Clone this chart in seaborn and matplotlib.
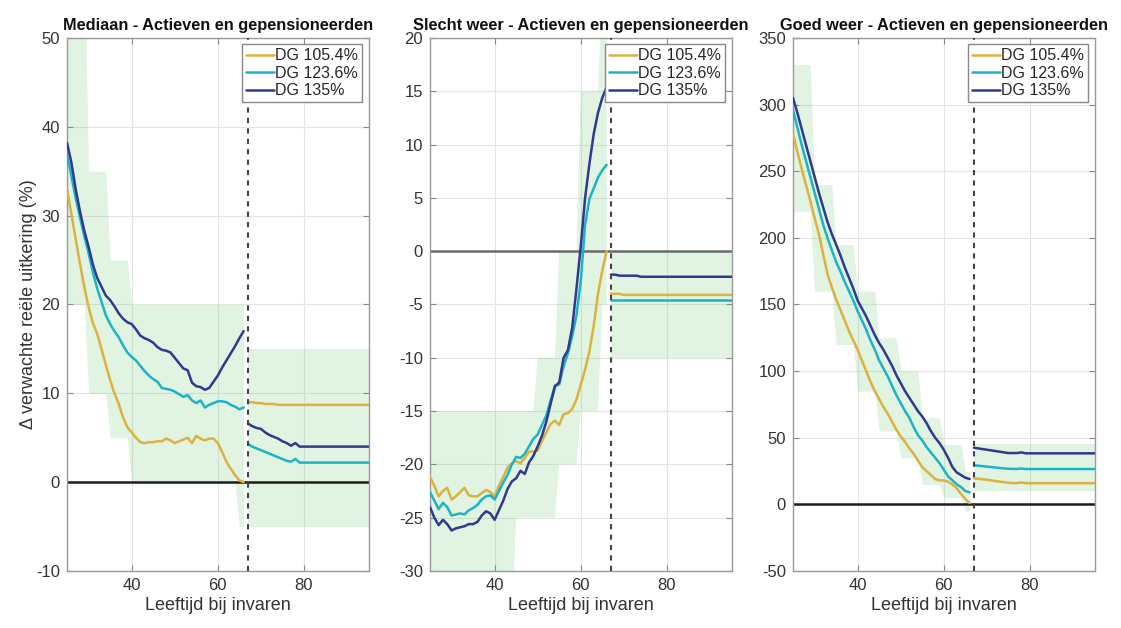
import numpy as np
import pandas as pd
import seaborn as sns
import matplotlib.pyplot as plt

# ages (pre retirement per year, post retirement at a few points)
ages_pre = list(range(25, 67))
ages_post = [67, 68, 69, 70, 71, 72, 73, 74, 75, 76, 77, 78, 79, 80, 95]
series_names = ["DG 105.4%", "DG 123.6%", "DG 135%"]

# band buckets (start age of each age group and its size)
bucket_start = [25, 30, 35, 40, 45, 50, 55, 60, 65]
bucket_size = [5, 5, 5, 5, 5, 5, 5, 5, 2]

# --- Mediaan ---
med_gold_pre = [33.0, 30.2, 27.4, 24.6, 22.0, 19.7, 17.9, 16.7, 15.0, 13.2, 11.5, 10.0, 8.8, 7.3, 6.2,
                5.6, 5.0, 4.5, 4.4, 4.5, 4.5, 4.6, 4.6, 4.9, 4.7, 4.4, 4.6, 4.8, 5.0, 4.4,
                5.2, 4.9, 4.7, 4.9, 4.9, 4.4, 3.4, 2.3, 1.5, 0.8, 0.2, 0.0]
med_cyan_pre = [36.9, 34.5, 32.0, 29.8, 27.7, 25.8, 23.6, 21.8, 20.3, 18.8, 17.8, 17.0, 16.3, 15.4, 14.6,
                14.1, 13.7, 13.1, 12.5, 12.0, 11.6, 11.3, 10.6, 10.5, 10.4, 10.2, 9.9, 9.6, 9.8, 9.2,
                8.9, 9.2, 8.4, 8.7, 8.9, 9.1, 9.1, 9.0, 8.7, 8.5, 8.2, 8.4]
med_navy_pre = [38.2, 36.0, 33.0, 30.5, 28.3, 26.5, 24.5, 23.0, 22.0, 21.0, 20.5, 19.8, 19.0, 18.4, 18.0,
                17.8, 17.2, 16.5, 16.2, 16.0, 15.7, 15.2, 14.9, 14.8, 14.6, 14.0, 13.4, 12.8, 12.6, 11.2,
                10.8, 10.7, 10.4, 10.6, 11.3, 12.0, 12.9, 13.7, 14.5, 15.3, 16.2, 17.0]
med_gold_post = [9.0, 9.0, 8.9, 8.9, 8.8, 8.8, 8.8, 8.7, 8.7, 8.7, 8.7, 8.7, 8.7, 8.7, 8.7]
med_cyan_post = [4.3, 4.0, 3.8, 3.6, 3.4, 3.2, 3.0, 2.8, 2.6, 2.4, 2.3, 2.6, 2.2, 2.2, 2.2]
med_navy_post = [6.6, 6.3, 6.1, 6.0, 5.6, 5.3, 5.1, 4.9, 4.6, 4.4, 4.1, 4.4, 4.0, 4.0, 4.0]
med_band_lo = [20, 10, 5, 0, 0, 0, 0, 0, -5]
med_band_hi = [60, 35, 25, 20, 20, 20, 20, 20, 20]
med_post_band = [-5, 15]

# --- Slecht weer ---
bad_gold_pre = [-21.2, -22.0, -23.0, -22.5, -22.2, -23.3, -23.0, -22.6, -22.2, -22.9, -23.0, -23.0, -22.7, -22.4,
                -22.6, -23.0, -22.0, -21.2, -20.3, -19.9, -19.7, -19.9, -19.4, -18.8, -18.8, -18.7, -17.8,
                -17.0, -16.2, -15.9, -16.3, -15.3, -15.2, -14.8, -13.9, -12.5, -11.1, -9.4, -7.0, -4.0, -1.8, 0.0]
bad_cyan_pre = [-22.6, -23.4, -24.2, -23.6, -24.0, -24.8, -24.7, -24.6, -24.7, -24.3, -24.1, -23.8, -23.3, -23.0,
                -22.9, -23.3, -22.5, -21.7, -21.0, -20.0, -19.3, -19.4, -19.0, -18.3, -17.6, -17.2, -16.3,
                -15.4, -14.0, -12.6, -12.5, -10.8, -9.6, -8.0, -6.0, -2.8, 2.5, 4.9, 5.9, 6.9, 7.6, 8.1]
bad_navy_pre = [-24.0, -25.0, -25.7, -25.2, -25.6, -26.2, -26.0, -25.9, -25.8, -25.6, -25.6, -25.4, -24.8, -24.4,
                -24.6, -25.2, -24.3, -23.4, -22.3, -21.6, -21.3, -20.6, -20.9, -19.8, -19.2, -18.3, -17.3,
                -16.0, -14.3, -12.7, -12.3, -10.0, -9.3, -7.2, -3.5, 0.5, 5.0, 8.2, 11.0, 13.0, 14.4, 15.4]
bad_gold_post = [-4.0, -4.0, -4.0, -4.1, -4.1, -4.1, -4.1, -4.1, -4.1, -4.1, -4.1, -4.1, -4.1, -4.1, -4.1]
bad_cyan_post = [-4.6, -4.6, -4.6, -4.6, -4.6, -4.6, -4.6, -4.6, -4.6, -4.6, -4.6, -4.6, -4.6, -4.6, -4.6]
bad_navy_post = [-2.2, -2.2, -2.3, -2.3, -2.3, -2.3, -2.3, -2.4, -2.4, -2.4, -2.4, -2.4, -2.4, -2.4, -2.4]
bad_band_lo = [-35, -35, -35, -35, -25, -25, -20, -15, -5]
bad_band_hi = [-15, -15, -15, -15, -15, -10, 0, 15, 25]
bad_post_band = [-10, 0]

# --- Goed weer ---
good_gold_pre = [278, 265, 252, 240, 228, 215, 203, 188, 173, 163, 154, 146, 138, 130, 123,
                 116, 108, 100, 92, 85, 79, 73, 68, 62, 56, 51, 47, 42, 38, 33,
                 28, 25, 22, 19, 18, 18, 17, 15, 12, 8, 4, 1]
good_cyan_pre = [296, 283, 270, 258, 246, 234, 222, 210, 200, 191, 182, 175, 167, 160, 153,
                 145, 138, 131, 123, 116, 108, 102, 96, 89, 82, 76, 70, 65, 58, 52,
                 48, 43, 39, 35, 31, 26, 21, 18, 15, 13, 10, 9]
good_navy_pre = [305, 294, 282, 270, 258, 246, 234, 223, 212, 203, 195, 187, 178, 170, 162,
                 153, 147, 141, 134, 127, 121, 116, 110, 104, 97, 91, 85, 80, 75, 70,
                 66, 61, 55, 50, 46, 41, 35, 28, 24, 22, 20, 19]
good_gold_post = [19.5, 19.2, 18.8, 18.5, 18.0, 17.5, 17.0, 16.6, 16.2, 16.0, 16.0, 16.4, 15.9, 15.9, 15.9]
good_cyan_post = [29.5, 29.0, 28.7, 28.3, 28.0, 27.6, 27.3, 27.0, 26.7, 26.6, 26.6, 26.9, 26.5, 26.5, 26.5]
good_navy_post = [42.5, 42.0, 41.5, 41.0, 40.5, 40.0, 39.5, 39.0, 38.5, 38.5, 38.5, 39.0, 38.3, 38.3, 38.3]
good_band_lo = [220, 160, 120, 85, 55, 35, 15, 5, -5]
good_band_hi = [330, 240, 195, 160, 125, 100, 65, 45, 25]
good_post_band = [10, 45]

panels = [
    dict(title="Mediaan - Actieven en gepensioneerden",
         pre=[med_gold_pre, med_cyan_pre, med_navy_pre], post=[med_gold_post, med_cyan_post, med_navy_post],
         lo=med_band_lo, hi=med_band_hi, post_band=med_post_band,
         ylim=(-10, 50), yticks=np.arange(-10, 51, 10), zero_color="#1e1e1e"),
    dict(title="Slecht weer - Actieven en gepensioneerden",
         pre=[bad_gold_pre, bad_cyan_pre, bad_navy_pre], post=[bad_gold_post, bad_cyan_post, bad_navy_post],
         lo=bad_band_lo, hi=bad_band_hi, post_band=bad_post_band,
         ylim=(-30, 20), yticks=np.arange(-30, 21, 5), zero_color="#6a6a6a"),
    dict(title="Goed weer - Actieven en gepensioneerden",
         pre=[good_gold_pre, good_cyan_pre, good_navy_pre], post=[good_gold_post, good_cyan_post, good_navy_post],
         lo=good_band_lo, hi=good_band_hi, post_band=good_post_band,
         ylim=(-50, 350), yticks=np.arange(-50, 351, 50), zero_color="#1e1e1e"),
]

colors = ["#DDB140", "#1DB3C7", "#2F3A8F"]

sns.set_theme(style="ticks")
plt.rcParams['font.family'] = ['Liberation Sans', 'DejaVu Sans']
plt.rcParams['axes.unicode_minus'] = False

fig = plt.figure(figsize=(11.21, 6.28), dpi=100)
lefts = [0.0598, 0.3836, 0.7074]

for i, p in enumerate(panels):
    ax = fig.add_axes([lefts[i], 0.0908, 0.2690, 0.8487])

    # shaded band per age group
    band_lo = np.repeat(p["lo"], bucket_size)
    band_hi = np.repeat(p["hi"], bucket_size)
    ax.fill_between(ages_pre, band_lo, band_hi, color="#5cbf5c", alpha=0.18, linewidth=0, zorder=1)
    ax.fill_between([ages_post[0], ages_post[-1]], p["post_band"][0], p["post_band"][1],
                    color="#5cbf5c", alpha=0.18, linewidth=0, zorder=1)

    df_pre = pd.DataFrame({
        "age": ages_pre * 3,
        "value": np.concatenate(p["pre"]),
        "series": np.repeat(series_names, len(ages_pre)),
    })
    df_post = pd.DataFrame({
        "age": ages_post * 3,
        "value": np.concatenate(p["post"]),
        "series": np.repeat(series_names, len(ages_post)),
    })

    ax.axhline(0, color=p["zero_color"], linewidth=1.8, zorder=2)
    sns.lineplot(data=df_pre, x="age", y="value", hue="series", palette=colors,
                 estimator=None, linewidth=1.8, ax=ax, zorder=3)
    sns.lineplot(data=df_post, x="age", y="value", hue="series", palette=colors,
                 estimator=None, linewidth=1.8, ax=ax, legend=False, zorder=3)
    ax.axvline(67, color="#444444", linestyle=(0, (2.5, 2.5)), linewidth=1.5, zorder=4)

    ax.set_xlim(25, 95)
    ax.set_ylim(*p["ylim"])
    ax.set_xticks([40, 60, 80])
    ax.set_yticks(p["yticks"])
    ax.grid(True, color="#e4e4e4", linewidth=0.8, zorder=0)
    ax.set_axisbelow(True)
    ax.tick_params(direction="in", top=True, right=True, length=4, width=0.8,
                   color="#888888", labelsize=12, labelcolor="#333333", pad=5)
    for s in ax.spines.values():
        s.set_color("#9a9a9a")
        s.set_linewidth(1.0)

    ax.set_title(p["title"], fontsize=11.8, fontweight="bold", pad=6, color="#111111")
    ax.set_xlabel("Leeftijd bij invaren", fontsize=13, color="#333333", labelpad=3)
    ax.set_ylabel("Δ verwachte reële uitkering (%)" if i == 0 else "", fontsize=13,
                  color="#333333", labelpad=-1)

    sns.move_legend(ax, "upper right", title=None, fontsize=11.5, frameon=True, fancybox=False,
                    edgecolor="#888888", framealpha=1, borderaxespad=0.4, labelspacing=0.15,
                    handlelength=1.7, handletextpad=0.1, borderpad=0.25)

fig.savefig("out.png", dpi=100, facecolor="white")
